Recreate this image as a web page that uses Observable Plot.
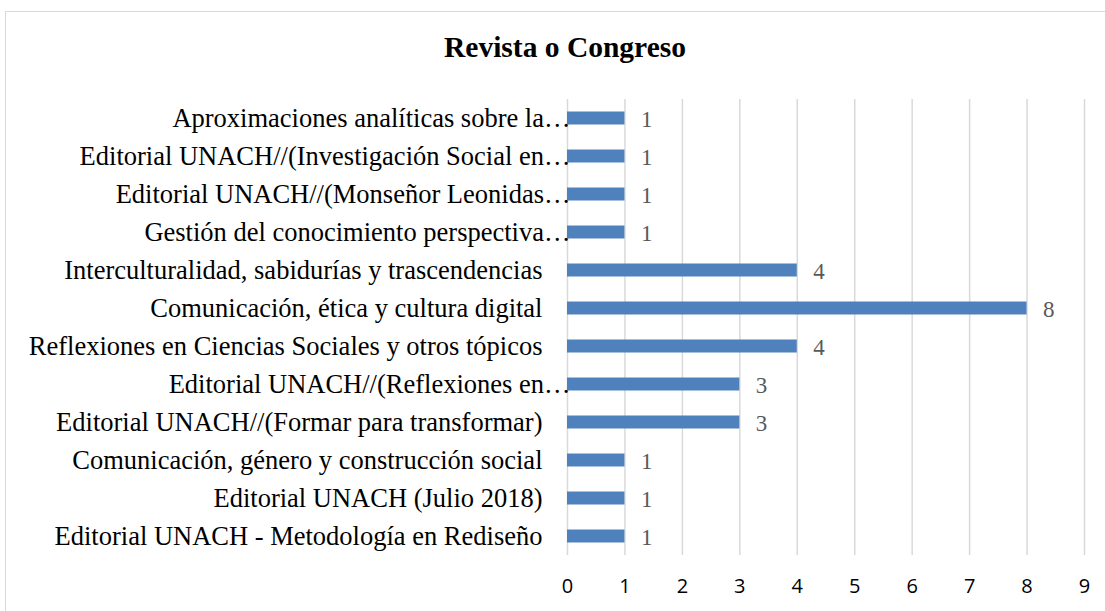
<!DOCTYPE html>
<html>
<head>
<meta charset="utf-8">
<script src="https://cdn.jsdelivr.net/npm/d3@7"></script>
<script src="https://cdn.jsdelivr.net/npm/@observablehq/plot@0.6"></script>
<style>
  html, body { margin: 0; padding: 0; background: #fff; overflow: hidden; }
  #wrap { position: relative; width: 1105px; height: 611px; }
  #box { position: absolute; left: 5px; top: 11px; width: 1200px; height: 700px; border: 1.5px solid #d9d9d9; box-sizing: border-box; }
  #title { position: absolute; left: 0; top: 33px; width: 1130px; text-align: center; line-height: 1;
           font-family: "Liberation Serif", "Times New Roman", serif; font-weight: bold; font-size: 29.5px; color: #000; }
  #chart { position: absolute; left: 0; top: 0; }
</style>
</head>
<body>
<div id="wrap">
  <div id="box"></div>
  <div id="title">Revista o Congreso</div>
  <div id="chart"></div>
</div>
<script>
const categories = [
  "Aproximaciones analíticas sobre la…",
  "Editorial UNACH//(Investigación Social en…",
  "Editorial UNACH//(Monseñor Leonidas…",
  "Gestión del conocimiento perspectiva…",
  "Interculturalidad, sabidurías y trascendencias",
  "Comunicación, ética y cultura digital",
  "Reflexiones en Ciencias Sociales y otros tópicos",
  "Editorial UNACH//(Reflexiones en…",
  "Editorial UNACH//(Formar para transformar)",
  "Comunicación, género y construcción social",
  "Editorial UNACH (Julio 2018)",
  "Editorial UNACH - Metodología en Rediseño"
];
const values = [1, 1, 1, 1, 4, 8, 4, 3, 3, 1, 1, 1];
const xTicks = [0, 1, 2, 3, 4, 5, 6, 7, 8, 9];

const data = categories.map((c, i) => ({cat: c, value: values[i]}));
const truncated = data.filter(d => d.cat.endsWith("…"));
const full = data.filter(d => !d.cat.endsWith("…"));

const serif = "'Liberation Serif', 'Times New Roman', serif";

const chart = Plot.plot({
  width: 1105,
  height: 611,
  marginLeft: 567,
  marginRight: 21,
  marginTop: 99,
  marginBottom: 56,
  style: { background: "transparent", overflow: "visible" },
  x: { domain: [0, 9], ticks: xTicks },
  y: { domain: categories, padding: 0 },
  marks: [
    Plot.gridX(xTicks, { stroke: "#d9d9d9", strokeOpacity: 1, strokeWidth: 1.5 }),
    Plot.barX(data, { x: "value", y: "cat", fill: "#4f81bd", insetTop: 12.5, insetBottom: 12.5 }),
    Plot.text(data, { x: "value", y: "cat", text: d => String(d.value), textAnchor: "start", dx: 16, dy: 1,
      fill: "#595959", fontSize: 23, fontFamily: serif }),
    Plot.text(truncated, { x: 0, y: "cat", text: "cat", textAnchor: "end", dx: 3,
      fill: "#000", fontSize: 26.5, fontFamily: serif }),
    Plot.text(full, { x: 0, y: "cat", text: "cat", textAnchor: "end", dx: -25,
      fill: "#000", fontSize: 26.5, fontFamily: serif }),
    Plot.axisX(xTicks, { tickSize: 0, tickPadding: 23, fontSize: 20, fill: "#000",
      fontFamily: "'Open Sans', 'Liberation Sans', sans-serif", label: null }),
    Plot.axisY({ ticks: [], label: null, tickSize: 0 })
  ]
});
document.getElementById("chart").appendChild(chart);
</script>
</body>
</html>
